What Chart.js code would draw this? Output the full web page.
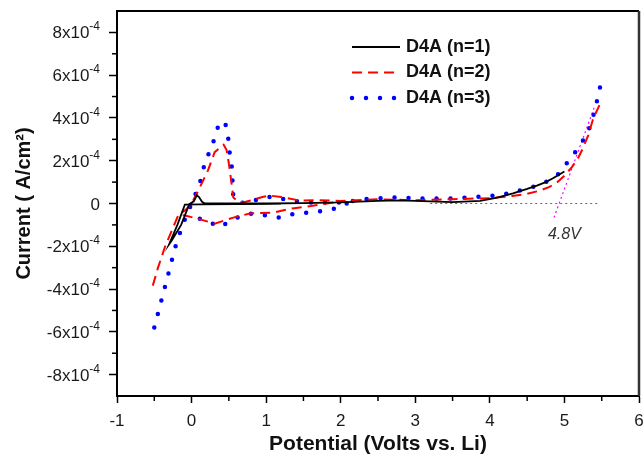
<!DOCTYPE html>
<html>
<head>
<meta charset="utf-8">
<title>Cyclic voltammetry D4A</title>
<script src="https://cdn.jsdelivr.net/npm/chart.js@4.4.1/dist/chart.umd.min.js"></script>
<style>
    html, body { margin: 0; padding: 0; background: #fff; }
    #chartCanvas { display: block; }
</style>
</head>
<body>
<canvas id="chartCanvas" width="643" height="460"></canvas>
<script>
// Potential in V vs. Li, current in units of 1e-4 A/cm2.
// A null entry splits a scan into its two branches.
const n1Potential = [1.2, 0.6, 0.1, -0.09, -0.19, -0.3, -0.27, -0.14, -0.03, 0.03, 0.07, 0.1, 0.14, 0.18, 0.4, 1.0, 1.5, 2.0, 2.5, 2.8, 3.2, 3.5, 3.87, 4.1, 4.31, 4.5, 4.63, 4.75, 4.84, 4.92, 5.0];
const n1Current   = [-0.02, -0.03, -0.04, -0.05, -1.0, -1.9, -1.75, -1.0, -0.03, 0.1, 0.38, 0.3, 0.08, 0.0, 0.0, 0.0, 0.02, 0.05, 0.12, 0.15, 0.1, 0.06, 0.12, 0.27, 0.47, 0.68, 0.84, 1.0, 1.17, 1.33, 1.5];

const n2Potential = [-0.52, -0.45, -0.36, -0.27, -0.18, -0.08, 0.0, 0.11, 0.22, 0.31, 0.43, 0.47, 0.5, 0.53, 0.56, 0.62, 0.69, 0.8, 0.95, 1.05, 1.2, 1.45, 1.7, 2.0, 2.5, 3.0, 3.5, 4.0, 4.3, 4.5, 4.67, 4.8, 4.9, 5.0, 5.1, 5.18, 5.25, 5.32, 5.38, 5.43, 5.47,
    null, 1.9, 1.6, 1.35, 1.1, 0.78, 0.56, 0.31, 0.07, -0.1, -0.18];
const n2Current   = [-3.84, -3.0, -2.06, -1.3, -0.56, -0.3, 0.0, 0.75, 1.55, 2.4, 2.75, 2.5, 1.87, 1.1, 0.28, 0.1, 0.05, 0.15, 0.3, 0.37, 0.3, 0.14, 0.15, 0.12, 0.2, 0.15, 0.2, 0.25, 0.35, 0.45, 0.6, 0.78, 0.98, 1.3, 1.7, 2.1, 2.6, 3.2, 3.9, 4.3, 4.6,
    null, 0.05, -0.12, -0.23, -0.42, -0.47, -0.66, -0.94, -0.7, -0.55, -0.56];

const n3Potential = [-0.5, -0.44, -0.38, -0.29, -0.22, -0.13, -0.05, 0.02, 0.11, 0.18, 0.22, 0.29, 0.36, 0.41, 0.45, 0.49, 0.51, 0.54, 0.55, 0.56, 0.62, 0.72, 0.92, 1.08, 1.32, 1.6, 2.08, 2.28, 2.69, 3.09, 3.46, 3.69, 4.09, 4.29, 4.49, 4.7, 4.9, 5.03, 5.18, 5.31, 5.38, 5.43, 5.47, 5.51,
    null, 2.08, 1.98, 1.79, 1.59, 1.39, 1.18, 0.98, 0.78, 0.58, 0.38, 0.2, 0.05, -0.06];
const n3Current   = [-5.8, -5.0, -4.2, -3.0, -2.06, -1.1, -0.4, 0.15, 0.94, 1.92, 2.25, 2.86, 3.65, 3.85, 3.8, 3.1, 2.4, 1.7, 1.0, 0.28, 0.1, 0.0, 0.23, 0.33, 0.14, 0.05, 0.05, 0.2, 0.28, 0.23, 0.23, 0.28, 0.37, 0.5, 0.7, 0.9, 1.3, 1.87, 2.57, 3.28, 4.0, 4.7, 5.3, 6.03,
    null, 0.0, -0.19, -0.33, -0.42, -0.47, -0.66, -0.55, -0.47, -0.7, -1.1, -0.8, -0.65, -0.56];

// onset construction lines (baseline and tangent)
const baselinePotential = [3.2, 5.45];
const baselineCurrent   = [0, 0];
const tangentPotential  = [4.86, 5.41];
const tangentCurrent    = [-0.66, 4.59];
const onsetLabel = { text: '4.8V', x: 5.0, y: -1.45 };

const seriesLabels = ['D4A (n=1)', 'D4A (n=2)', 'D4A (n=3)'];

const xTickValues = [-1, 0, 1, 2, 3, 4, 5, 6];
const xTickLabels = ['-1', '0', '1', '2', '3', '4', '5', '6'];
const xMinorTicks = [-0.5, 0.5, 1.5, 2.5, 3.5, 4.5, 5.5];
const yTickValues = [-8, -6, -4, -2, 0, 2, 4, 6, 8];
const yTickLabels = ['-8x10', '-6x10', '-4x10', '-2x10', '0', '2x10', '4x10', '6x10', '8x10'];
const yTickExponents = ['-4', '-4', '-4', '-4', '', '-4', '-4', '-4', '-4'];
const yMinorTicks = [-7, -5, -3, -1, 1, 3, 5, 7];

const FONT = "'Liberation Sans', Arial, sans-serif";

function toPoints(xs, ys) {
    return xs.map((x, i) => ({ x: x, y: ys[i] }));
}

// minor ticks, y tick labels with superscripts, top/right frame, legend and onset label
const extras = {
    id: 'extras',
    afterDraw(chart) {
        const { ctx, chartArea, scales: { x, y } } = chart;
        ctx.save();
        ctx.strokeStyle = '#000';
        ctx.lineWidth = 1.5;
        xMinorTicks.forEach(v => {
            const px = x.getPixelForValue(v);
            ctx.beginPath();
            ctx.moveTo(px, chartArea.bottom);
            ctx.lineTo(px, chartArea.bottom + 5);
            ctx.stroke();
        });
        yMinorTicks.forEach(v => {
            const py = y.getPixelForValue(v);
            ctx.beginPath();
            ctx.moveTo(chartArea.left, py);
            ctx.lineTo(chartArea.left - 5, py);
            ctx.stroke();
        });

        // y tick labels: mantissa plus raised exponent
        ctx.fillStyle = '#1a1a1a';
        ctx.textAlign = 'right';
        ctx.textBaseline = 'alphabetic';
        const labelRight = chartArea.left - 17;
        yTickValues.forEach((v, i) => {
            const py = y.getPixelForValue(v) + 6;
            ctx.font = '12px ' + FONT;
            const expW = ctx.measureText(yTickExponents[i]).width;
            ctx.fillText(yTickExponents[i], labelRight, py - 8);
            ctx.font = '17px ' + FONT;
            ctx.fillText(yTickLabels[i], labelRight - expW, py);
        });

        // frame
        ctx.strokeStyle = '#000';
        ctx.lineWidth = 2;
        ctx.beginPath();
        ctx.moveTo(chartArea.left, chartArea.top);
        ctx.lineTo(chartArea.right, chartArea.top);
        ctx.stroke();
        ctx.strokeStyle = '#333';
        ctx.lineWidth = 2.5;
        ctx.beginPath();
        ctx.moveTo(chartArea.right, chartArea.top);
        ctx.lineTo(chartArea.right, chartArea.bottom);
        ctx.stroke();

        // legend
        chart.data.datasets.slice(0, seriesLabels.length).forEach((ds, i) => {
            const ly = 47 + i * 25.5;
            ctx.strokeStyle = ds.borderColor;
            ctx.lineWidth = ds.borderWidth;
            ctx.lineCap = ds.borderCapStyle || 'butt';
            ctx.setLineDash(ds.borderDash || []);
            ctx.beginPath();
            ctx.moveTo(352, ly);
            ctx.lineTo(400, ly);
            ctx.stroke();
            ctx.setLineDash([]);
            ctx.fillStyle = '#111';
            ctx.font = 'bold 18px ' + FONT;
            ctx.textBaseline = 'middle';
            ctx.textAlign = 'left';
            ctx.fillText(ds.label, 406, ly);
        });

        // onset annotation
        ctx.fillStyle = '#333';
        ctx.font = 'italic 16px ' + FONT;
        ctx.textAlign = 'center';
        ctx.textBaseline = 'middle';
        ctx.fillText(onsetLabel.text, x.getPixelForValue(onsetLabel.x), y.getPixelForValue(onsetLabel.y));
        ctx.restore();
    }
};

new Chart(document.getElementById('chartCanvas'), {
    type: 'scatter',
    data: {
        datasets: [
            {
                label: seriesLabels[0],
                data: toPoints(n1Potential, n1Current),
                showLine: true,
                borderColor: '#000',
                borderWidth: 1.8,
                pointRadius: 0,
            },
            {
                label: seriesLabels[1],
                data: toPoints(n2Potential, n2Current),
                showLine: true,
                borderColor: '#ff0000',
                borderWidth: 2,
                borderDash: [10, 6],
                pointRadius: 0,
            },
            {
                label: seriesLabels[2],
                data: toPoints(n3Potential, n3Current),
                showLine: true,
                borderColor: '#0000ff',
                borderWidth: 4.5,
                borderDash: [0, 14],
                borderCapStyle: 'round',
                pointRadius: 0,
            },
            {
                label: '',
                data: toPoints(baselinePotential, baselineCurrent),
                showLine: true,
                borderColor: '#ff00ff',
                borderWidth: 1.2,
                borderDash: [2, 3],
                pointRadius: 0,
            },
            {
                label: '',
                data: toPoints(tangentPotential, tangentCurrent),
                showLine: true,
                borderColor: '#ff00ff',
                borderWidth: 1.2,
                borderDash: [2, 3],
                pointRadius: 0,
            },
        ],
    },
    options: {
        responsive: false,
        animation: false,
        layout: { padding: { top: 11, right: 4, left: 0, bottom: 0 } },
        plugins: {
            legend: { display: false },
            tooltip: { enabled: false },
        },
        scales: {
            x: {
                type: 'linear',
                min: -1,
                max: 6,
                afterBuildTicks: scale => { scale.ticks = xTickValues.map(v => ({ value: v })); },
                afterFit: scale => {
                    scale.height = 64;
                    scale.paddingLeft = 0;
                    scale.paddingRight = 0;
                },
                border: { color: '#000', width: 2 },
                grid: { drawOnChartArea: false, drawTicks: true, tickLength: 7, tickColor: '#000', tickWidth: 1.5 },
                ticks: {
                    callback: (v, i) => xTickLabels[i],
                    color: '#1a1a1a',
                    font: { family: FONT, size: 17 },
                    padding: 8,
                    maxRotation: 0,
                },
                title: {
                    display: true,
                    text: 'Potential (Volts vs. Li)',
                    color: '#111',
                    font: { family: FONT, size: 21, weight: 'bold' },
                    padding: { top: 0, bottom: 3 },
                },
            },
            y: {
                type: 'linear',
                min: -9,
                max: 9,
                afterBuildTicks: scale => { scale.ticks = yTickValues.map(v => ({ value: v })); },
                afterFit: scale => {
                    scale.width = 117;
                    scale.paddingTop = 0;
                    scale.paddingBottom = 0;
                },
                border: { color: '#000', width: 2 },
                grid: { drawOnChartArea: false, drawTicks: true, tickLength: 8, tickColor: '#000', tickWidth: 1.5 },
                ticks: { display: false },
                title: {
                    display: true,
                    text: 'Current ( A/cm²)',
                    color: '#111',
                    font: { family: FONT, size: 20, weight: 'bold' },
                    padding: { top: 12, bottom: 0 },
                },
            },
        },
    },
    plugins: [extras],
});
</script>
</body>
</html>
